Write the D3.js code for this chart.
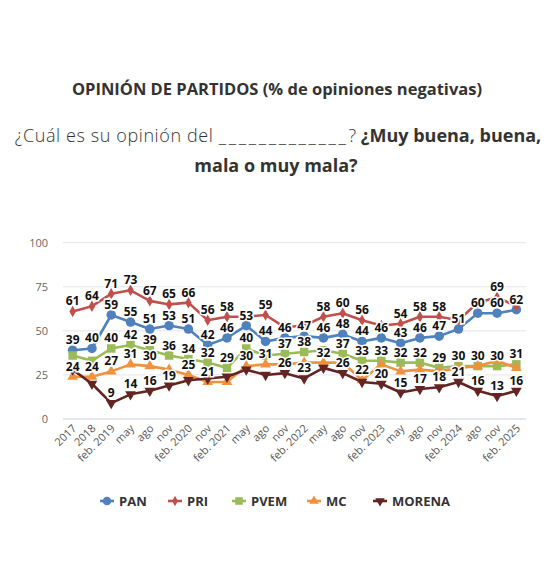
<!DOCTYPE html>
<html>
<head>
    <meta charset="utf-8">
    <title>Opinión de partidos</title>
    <script src="https://d3js.org/d3.v7.min.js"></script>
    <style>
        body { margin: 0; background: #fff; }
    </style>
</head>
<body>
    <div id="chart"></div>

    <script>
        // categorías del eje x
        const categories = ["2017", "2018", "feb. 2019", "may", "ago", "nov", "feb. 2020", "nov",
            "feb. 2021", "may", "ago", "nov", "feb. 2022", "may", "ago", "nov", "feb. 2023",
            "may", "ago", "nov", "feb. 2024", "ago", "nov", "feb. 2025"];

        // % de opiniones negativas por partido
        const pan = [39, 40, 59, 55, 51, 53, 51, 42, 46, 53, 44, 46, 47, 46, 48, 44, 46, 43, 46, 47, 51, 60, 60, 62];
        const pri = [61, 64, 71, 73, 67, 65, 66, 56, 58, 58, 59, 52, 53, 58, 60, 56, 53, 54, 58, 58, 56, 66, 69, 64];
        const pvem = [36, 33, 40, 42, 39, 36, 34, 32, 29, 40, 36, 37, 38, 39, 37, 33, 33, 32, 32, 29, 30, 30, 30, 31];
        const mc = [24, 24, 27, 31, 30, 28, 25, 21, 21, 30, 31, 31, 32, 32, 32, 22, 31, 27, 28, 27, 29, 30, 33, 29];
        const morena = [28, 20, 9, 14, 16, 19, 22, 23, 24, 28, 25, 26, 23, 29, 26, 21, 20, 15, 17, 18, 21, 16, 13, 16];

        // etiquetas que no aparecen en el original (índices)
        const hiddenPri = [9, 11, 12, 16, 20, 21, 23];
        const hiddenPvem = [0, 1, 10, 13];
        const hiddenMc = [5, 8, 11, 12, 14, 16, 17, 18, 19, 20, 21, 22, 23];
        const hiddenMorena = [0, 1, 6, 7, 8, 9, 10, 13, 15];

        const yTicks = [0, 25, 50, 75, 100];

        const series = [
            { name: "PAN", values: pan, hidden: [], color: "#4f81bd", symbol: d3.symbolCircle, size: 72, rot: 0 },
            { name: "PRI", values: pri, hidden: hiddenPri, color: "#c0504d", symbol: d3.symbolDiamond, size: 38, rot: 0 },
            { name: "PVEM", values: pvem, hidden: hiddenPvem, color: "#9bbb59", symbol: d3.symbolSquare, size: 72, rot: 0 },
            { name: "MC", values: mc, hidden: hiddenMc, color: "#f0913f", symbol: d3.symbolTriangle, size: 50, rot: 0 },
            { name: "MORENA", values: morena, hidden: hiddenMorena, color: "#632523", symbol: d3.symbolTriangle, size: 50, rot: 180 }
        ];

        const width = 557, height = 571;
        const svg = d3.select("#chart").append("svg")
            .attr("width", width)
            .attr("height", height)
            .style("font-family", "'Open Sans', sans-serif");

        // títulos
        svg.append("text")
            .attr("x", 277).attr("y", 95)
            .attr("text-anchor", "middle")
            .style("font-size", "16.5px").style("font-weight", 700).style("fill", "#333")
            .text("OPINIÓN DE PARTIDOS (% de opiniones negativas)");

        const sub = svg.append("text")
            .attr("x", 278).attr("y", 142)
            .attr("text-anchor", "middle")
            .style("font-size", "18px").style("fill", "#333");
        sub.append("tspan").style("font-weight", 300).style("letter-spacing", "0.6px")
            .text("¿Cuál es su opinión del ");
        sub.append("tspan").style("font-weight", 300).style("letter-spacing", "2.6px")
            .text("_____________");
        sub.append("tspan").style("font-weight", 300).text("? ");
        sub.append("tspan").style("font-weight", 700).text("¿Muy buena, buena,");

        svg.append("text")
            .attr("x", 276).attr("y", 172)
            .attr("text-anchor", "middle")
            .style("font-size", "18px").style("font-weight", 700).style("fill", "#333")
            .text("mala o muy mala?");

        // escalas
        const x = d3.scalePoint()
            .domain(d3.range(categories.length))
            .range([63, 526])
            .padding(0.5);

        const y = d3.scaleLinear()
            .domain([0, 100])
            .range([419, 242.7]);

        // rejilla y eje y
        svg.append("g")
            .selectAll("line")
            .data(yTicks)
            .enter().append("line")
            .attr("x1", 63).attr("x2", 526)
            .attr("y1", d => y(d)).attr("y2", d => y(d))
            .attr("stroke", d => d === 0 ? "#c9cfe0" : "#e3e6ee")
            .attr("stroke-width", 1);

        const yAxis = svg.append("g")
            .attr("transform", "translate(48,0)")
            .call(d3.axisLeft(y).tickValues(yTicks).tickSize(0).tickPadding(0));
        yAxis.select(".domain").remove();
        yAxis.selectAll("text")
            .style("font-family", "'Open Sans', sans-serif")
            .style("font-size", "11px").style("fill", "#666");

        // eje x con etiquetas giradas
        const xAxis = svg.append("g")
            .attr("transform", "translate(0,419)")
            .call(d3.axisBottom(x).tickFormat(i => categories[i]).tickSize(0).tickPadding(0));
        xAxis.select(".domain").remove();
        xAxis.selectAll("text")
            .style("font-family", "'Open Sans', sans-serif")
            .style("font-size", "11px").style("fill", "#555")
            .attr("text-anchor", "end")
            .attr("dy", "0")
            .attr("transform", "translate(4,10) rotate(-45)");

        // líneas
        const line = d3.line()
            .x((d, i) => x(i))
            .y(d => y(d));

        series.forEach(s => {
            svg.append("path")
                .datum(s.values)
                .attr("fill", "none")
                .attr("stroke", s.color)
                .attr("stroke-width", 2.6)
                .attr("stroke-linejoin", "round")
                .attr("d", line);

            svg.append("g")
                .selectAll("path")
                .data(s.values)
                .enter().append("path")
                .attr("d", d3.symbol().type(s.symbol).size(s.size))
                .attr("transform", (d, i) => `translate(${x(i)},${y(d)}) rotate(${s.rot})`)
                .attr("fill", s.color);
        });

        // etiquetas de datos
        series.forEach(s => {
            svg.append("g")
                .selectAll("text")
                .data(s.values.map((v, i) => ({ v, i })).filter(d => !s.hidden.includes(d.i)))
                .enter().append("text")
                .attr("x", d => x(d.i))
                .attr("y", d => y(d.v) - 6)
                .attr("text-anchor", "middle")
                .style("font-size", "12px").style("font-weight", 700)
                .style("fill", "#111")
                .style("stroke", "#fff").style("stroke-width", 3)
                .style("paint-order", "stroke")
                .text(d => d.v);
        });

        // leyenda
        const legendX = [100, 168, 232, 307, 373];
        const legend = svg.append("g")
            .selectAll("g")
            .data(series)
            .enter().append("g")
            .attr("transform", (d, i) => `translate(${legendX[i]},501)`);

        legend.append("line")
            .attr("x1", 0).attr("x2", 14)
            .attr("stroke", d => d.color).attr("stroke-width", 2.6);
        legend.append("path")
            .attr("d", d => d3.symbol().type(d.symbol).size(d.size * 0.8)())
            .attr("transform", d => `translate(7,0) rotate(${d.rot})`)
            .attr("fill", d => d.color);
        legend.append("text")
            .attr("x", 19).attr("y", 5)
            .style("font-size", "13px").style("font-weight", 700).style("fill", "#333")
            .text(d => d.name);
    </script>
</body>
</html>
